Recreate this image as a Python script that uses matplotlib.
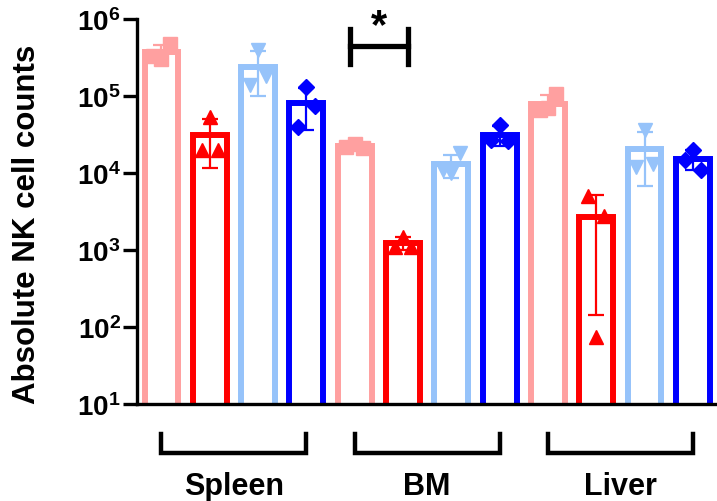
import numpy as np
import matplotlib
matplotlib.use("Agg")
import matplotlib.pyplot as plt
import matplotlib.transforms as mtransforms

plt.rcParams['font.family'] = ['Liberation Sans', 'DejaVu Sans']
plt.rcParams['font.weight'] = 'bold'
plt.rcParams['mathtext.fontset'] = 'custom'
plt.rcParams['mathtext.rm'] = 'Liberation Sans:bold'
plt.rcParams['mathtext.bf'] = 'Liberation Sans:bold'

# data, 3 mice per bar (order = centre, left, right)
tissues = ["Spleen", "BM", "Liver"]
series_colors = ["#ffa0a0", "#ff0000", "#96c3fa", "#0000ff"]
series_markers = ["s", "^", "v", "D"]

spleen = [
    [3.0e5, 3.3e5, 4.8e5],
    [5.4e4, 2.0e4, 2.0e4],
    [4.0e5, 1.4e5, 1.8e5],
    [1.3e5, 4.0e4, 7.4e4],
]
bm = [
    [2.4e4, 2.2e4, 2.1e4],
    [1.5e3, 1.1e3, 1.1e3],
    [1.0e4, 1.1e4, 1.8e4],
    [4.2e4, 2.7e4, 2.6e4],
]
liver = [
    [7.0e4, 6.5e4, 1.05e5],
    [75, 5.1e3, 2.8e3],
    [3.6e4, 1.2e4, 1.3e4],
    [2.0e4, 1.5e4, 1.1e4],
]
groups = [spleen, bm, liver]

yticks = [1e1, 1e2, 1e3, 1e4, 1e5, 1e6]
ytick_labels = [r"$\mathbf{10^{%d}}$" % int(np.log10(t)) for t in yticks]

# figure
fig = plt.figure(figsize=(7.17, 5.02), dpi=100)
ax = fig.add_axes([0.1915, 0.193, 0.8085, 0.767])

jitter = [0.0, -0.17, 0.17]
pos = 0
for g, grp in enumerate(groups):
    for s, vals in enumerate(grp):
        vals = np.array(vals, dtype=float)
        m = vals.mean()
        sd = vals.std(ddof=1)
        c = series_colors[s]
        ax.bar(pos, m, width=0.7, bottom=1e-3, facecolor="white", edgecolor=c,
               linewidth=4.3, zorder=2)
        ax.errorbar(pos, m, yerr=sd, color=c, capsize=5.5, capthick=1.6,
                    elinewidth=1.6, zorder=3)
        ax.plot(pos + np.array(jitter), vals, linestyle="none",
                marker=series_markers[s], color=c,
                markersize=9.5 if series_markers[s] != "D" else 8.5, zorder=4)
        pos += 1

ax.set_yscale("log")
ax.set_ylim(10, 1e6)
ax.set_xlim(-0.5, pos - 0.5)
ax.set_yticks(yticks)
ax.set_yticklabels(ytick_labels, fontsize=20)
ax.minorticks_off()
ax.set_xticks([])
ax.tick_params(axis="y", length=10, width=2.4, pad=2)
for side in ["top", "right"]:
    ax.spines[side].set_visible(False)
for side in ["left", "bottom"]:
    ax.spines[side].set_linewidth(2.4)
ax.set_ylabel("Absolute NK cell counts", fontsize=22.5, fontweight="bold")
ax.yaxis.set_label_coords(-0.165, 0.47)

# group brackets under the axis
trans = mtransforms.blended_transform_factory(ax.transData, ax.transAxes)
for g, name in enumerate(tissues):
    x0 = g * 4
    x1 = g * 4 + 3
    ax.plot([x0, x0, x1, x1], [-0.078, -0.128, -0.128, -0.078], color="black",
            lw=3.2, transform=trans, clip_on=False, solid_joinstyle="miter")
    ax.text((x0 + x1) / 2, -0.212, name, transform=trans, ha="center", va="center",
            fontsize=22, fontweight="bold")

# significance bracket between BM groups 1 and 2
b0, b1 = 4 - 0.1, 5 + 0.1
ax.plot([b0, b0], [7.4e5, 2.6e5], color="black", lw=3.8, clip_on=False)
ax.plot([b1, b1], [7.4e5, 2.6e5], color="black", lw=3.8, clip_on=False)
ax.plot([b0, b1], [4.5e5, 4.5e5], color="black", lw=3.8, clip_on=False)
ax.text((b0 + b1) / 2, 8.2e5, "*", ha="center", va="center", fontsize=30,
        fontweight="bold")

fig.savefig("out.png", dpi=100)
